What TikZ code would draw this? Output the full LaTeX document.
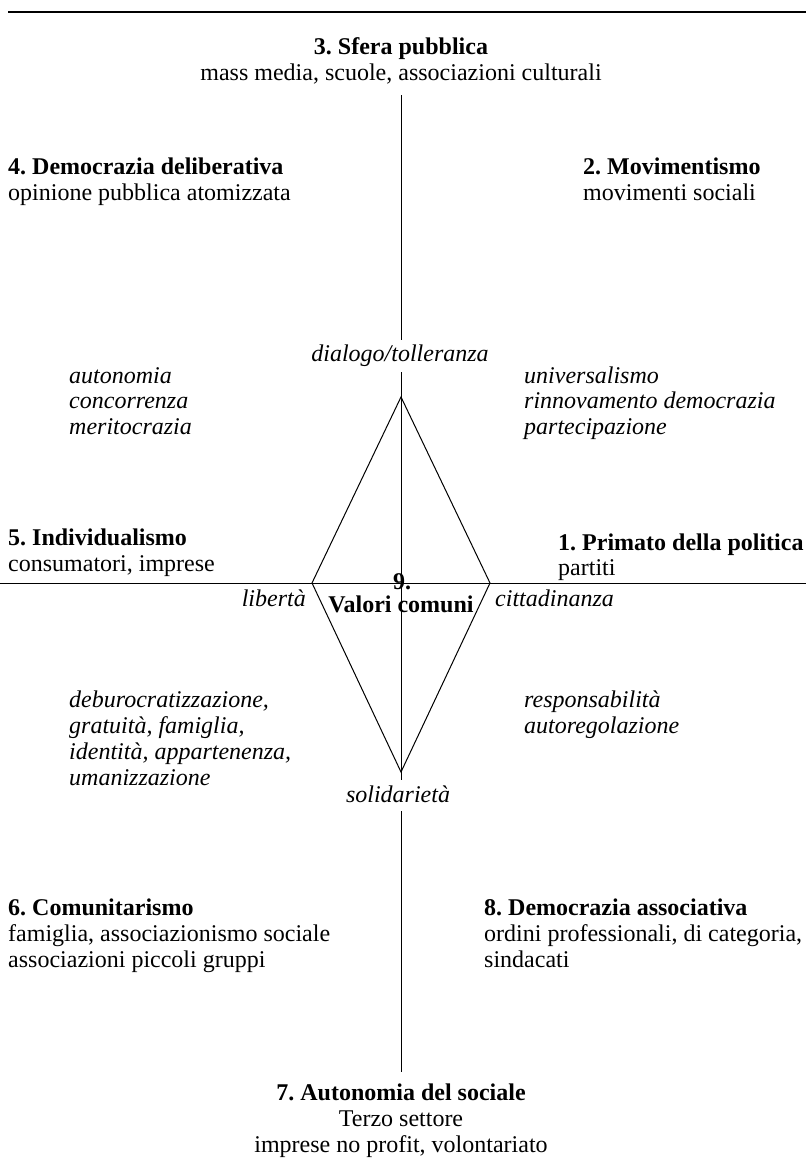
\documentclass[tikz,border=0pt]{standalone}
\usepackage{fontspec}
\setmainfont{Liberation Serif}
\frenchspacing
\begin{document}
\begin{tikzpicture}[x=1pt,y=-1pt,
  txt/.style={inner sep=0pt,font=\fontsize{24}{26}\selectfont},
  head/.style={txt,font=\fontsize{24}{26}\selectfont\bfseries},
  val/.style={txt,font=\fontsize{24}{26}\selectfont\itshape},
  axis/.style={line width=1pt},
  rule/.style={line width=1.5pt}]
\useasboundingbox (0,0) rectangle (806,1167);

% coordinates
\coordinate (ruleL) at (8,12);
\coordinate (ruleR) at (806,12);
\coordinate (vTop) at (401,95);
\coordinate (vA) at (401,340);
\coordinate (vB) at (401,372);
\coordinate (vC) at (401,780);
\coordinate (vD) at (401,811);
\coordinate (vBot) at (401,1072);
\coordinate (hL) at (0,583);
\coordinate (hR) at (806,583);
\coordinate (T) at (401,397);
\coordinate (L) at (312,583);
\coordinate (R) at (490,583);
\coordinate (B) at (401,772);

% lines
\draw[rule] (ruleL) -- (ruleR);
\draw[axis] (vTop) -- (vA);
\draw[axis] (vB) -- (vC);
\draw[axis] (vD) -- (vBot);
\draw[axis] (hL) -- (hR);
\draw[axis,line join=miter] (T) -- (R) -- (B) -- (L) -- cycle;

% 3
\node[head,anchor=base] (n3) at (401,54) {3. Sfera pubblica};
\node[txt,anchor=base] (n3a) at (401,80) {mass media, scuole, associazioni culturali};
% 4
\node[head,anchor=base west] (n4) at (8,174) {4. Democrazia deliberativa};
\node[txt,anchor=base west] (n4a) at (8,200) {opinione pubblica atomizzata};
% 2
\node[head,anchor=base west] (n2) at (583,174) {2. Movimentismo};
\node[txt,anchor=base west] (n2a) at (583,200) {movimenti sociali};
% dialogo
\node[val,anchor=base] (dia) at (400,361) {dialogo/tolleranza};
% left upper values
\node[val,anchor=base west] (lu1) at (69,383) {autonomia};
\node[val,anchor=base west] (lu2) at (69,408) {concorrenza};
\node[val,anchor=base west] (lu3) at (69,434) {meritocrazia};
% right upper values
\node[val,anchor=base west] (ru1) at (524,383) {universalismo};
\node[val,anchor=base west] (ru2) at (524,408) {rinnovamento democrazia};
\node[val,anchor=base west] (ru3) at (524,434) {partecipazione};
% 5
\node[head,anchor=base west] (n5) at (8,545) {5. Individualismo};
\node[txt,anchor=base west] (n5a) at (8,571) {consumatori, imprese};
% 1
\node[head,anchor=base west] (n1) at (558,550) {1. Primato della politica};
\node[txt,anchor=base west] (n1a) at (558,575) {partiti};
% centre
\node[val,anchor=base east] (lib) at (306,606) {libertà};
\node[val,anchor=base west] (cit) at (495,606) {cittadinanza};
\node[head,anchor=base] (n9) at (402,589) {9.};
\node[head,anchor=base] (n9a) at (401,612) {Valori comuni};
% left lower values
\node[val,anchor=base west] (ll1) at (69,707) {deburocratizzazione,};
\node[val,anchor=base west] (ll2) at (69,733) {gratuità, famiglia,};
\node[val,anchor=base west] (ll3) at (69,759) {identità, appartenenza,};
\node[val,anchor=base west] (ll4) at (69,785) {umanizzazione};
% right lower values
\node[val,anchor=base west] (rl1) at (524,707) {responsabilità};
\node[val,anchor=base west] (rl2) at (524,733) {autoregolazione};
% solidarieta
\node[val,anchor=base] (sol) at (398,802) {solidarietà};
% 6
\node[head,anchor=base west] (n6) at (8,915) {6. Comunitarismo};
\node[txt,anchor=base west] (n6a) at (8,941) {famiglia, associazionismo sociale};
\node[txt,anchor=base west] (n6b) at (8,967) {associazioni piccoli gruppi};
% 8
\node[head,anchor=base west] (n8) at (484,915) {8. Democrazia associativa};
\node[txt,anchor=base west] (n8a) at (484,941) {ordini professionali, di categoria,};
\node[txt,anchor=base west] (n8b) at (484,967) {sindacati};
% 7
\node[head,anchor=base] (n7) at (401,1100) {7. Autonomia del sociale};
\node[txt,anchor=base] (n7a) at (401,1126) {Terzo settore};
\node[txt,anchor=base] (n7b) at (401,1152) {imprese no profit, volontariato};
\end{tikzpicture}
\end{document}
